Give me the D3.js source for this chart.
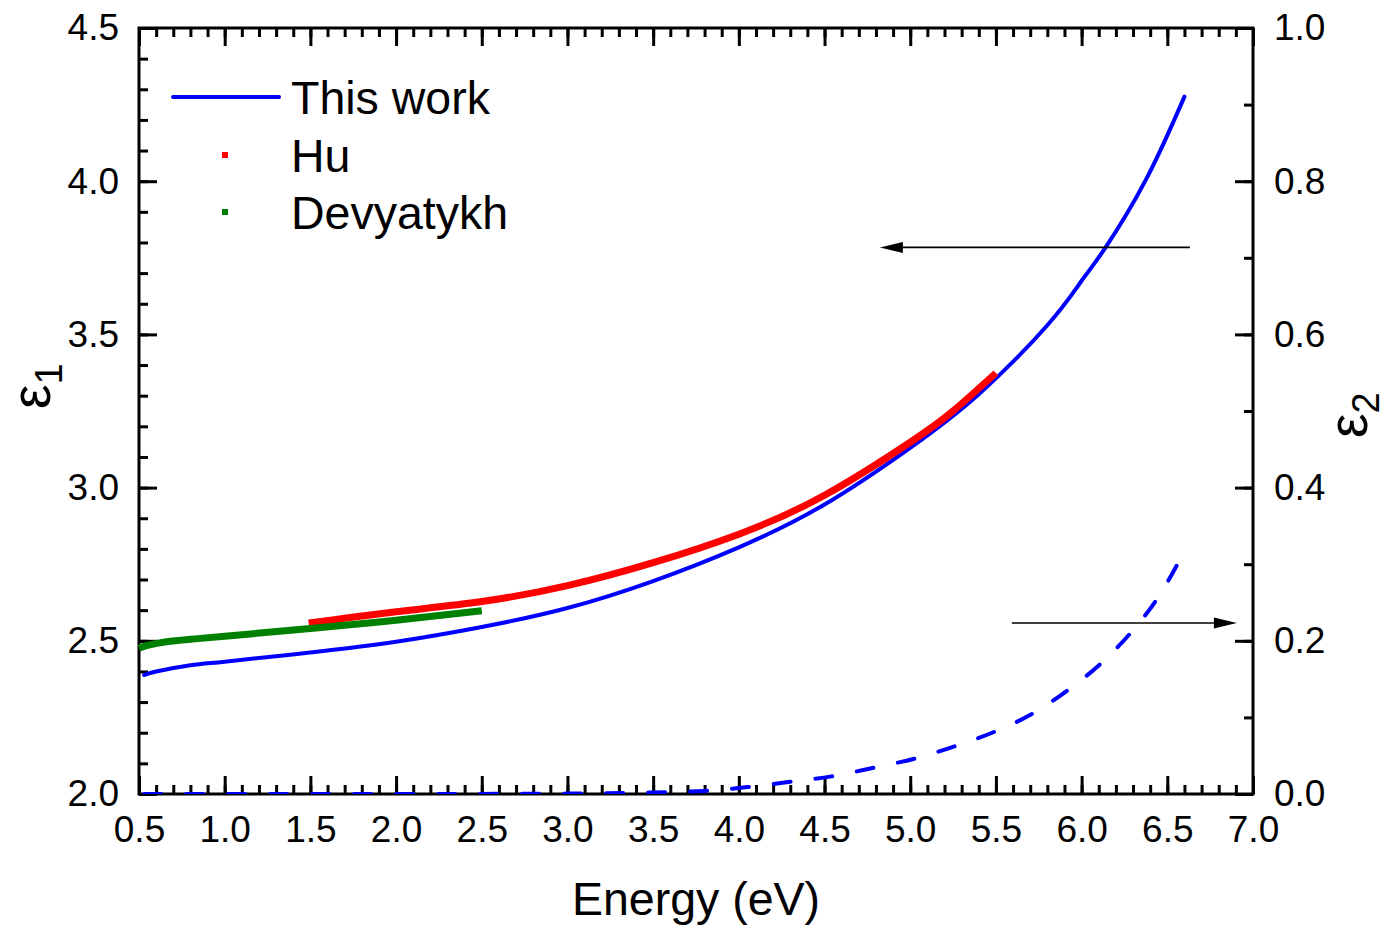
<!DOCTYPE html>
<html>
<head>
<meta charset="utf-8">
<script src="https://cdn.jsdelivr.net/npm/d3@7"></script>
<style>
  body { margin: 0; background: #fff; }
  text { font-family: "Liberation Sans", Arial, sans-serif; fill: #000; }
</style>
</head>
<body>
<div id="chart"></div>
<script>
// Daten
const energyThisWork = [0.53, 0.6, 0.8, 1.0, 1.5, 2.0, 2.5, 3.0, 3.5, 4.0, 4.5, 5.0, 5.4, 5.8, 6.0, 6.14, 6.38, 6.6];
const eps1ThisWork = [2.388, 2.400, 2.420, 2.432, 2.462, 2.497, 2.545, 2.607, 2.695, 2.805, 2.945, 3.13, 3.305, 3.53, 3.675, 3.784, 4.01, 4.276];

const energyEps2 = [0.53, 1.0, 2.0, 3.0, 3.5, 3.8, 4.05, 4.3, 4.54, 4.78, 5.04, 5.27, 5.5, 5.73, 5.94, 6.13, 6.3, 6.45, 6.6];
const eps2ThisWork = [0, 0, 0, 0.0005, 0.002, 0.004, 0.009, 0.016, 0.023, 0.034, 0.047, 0.063, 0.082, 0.107, 0.139, 0.174, 0.214, 0.258, 0.317];

const energyHu = [1.49, 2.0, 2.5, 3.0, 3.5, 4.0, 4.5, 5.0, 5.25, 5.5];
const eps1Hu = [2.558, 2.595, 2.628, 2.68, 2.755, 2.848, 2.975, 3.148, 3.25, 3.374];

const energyDev = [0.5, 0.55, 0.66, 0.8, 1.0, 1.5, 2.0, 2.5];
const eps1Dev = [2.476, 2.485, 2.497, 2.505, 2.515, 2.54, 2.567, 2.598];

const legendLabels = ["This work", "Hu", "Devyatykh"];

const xMajorTicks = d3.range(0.5, 7.01, 0.5);
const xMinorTicks = d3.range(0.5, 7.001, 0.1);
const y1MajorTicks = d3.range(2.0, 4.51, 0.5);
const y1MinorTicks = d3.range(2.0, 4.501, 0.1);
const y2MajorTicks = d3.range(0, 1.01, 0.2);
const y2MinorTicks = d3.range(0, 1.001, 0.1);

// Pfeile: [E von, E bis, Wert]
const arrowLeft = [6.632, 4.823, 3.784];
const arrowRight = [5.593, 6.906, 0.2232];

// Grundgerüst
const breite = 1396, hoehe = 925;
const m = { left: 139, right: 1253, top: 28, bottom: 794 };

const svg = d3.select("#chart").append("svg")
  .attr("width", breite)
  .attr("height", hoehe);

const x = d3.scaleLinear().domain([0.5, 7.0]).range([m.left, m.right]);
const y1 = d3.scaleLinear().domain([2.0, 4.5]).range([m.bottom, m.top]);
const y2 = d3.scaleLinear().domain([0, 1]).range([m.bottom, m.top]);

const fmt = d3.format(".1f");
const major = 18, minor = 9;

function styleAxis(g) {
  g.selectAll(".domain").remove();
  g.selectAll("line").attr("stroke", "#000").attr("stroke-width", 3);
  g.selectAll("text").style("font-size", "37px").attr("fill", "#000");
}

// Unten
svg.append("g").attr("transform", `translate(0,${m.bottom})`)
  .call(d3.axisBottom(x).tickValues(xMinorTicks).tickSize(-minor).tickFormat(""))
  .call(styleAxis);
svg.append("g").attr("transform", `translate(0,${m.bottom})`)
  .call(d3.axisBottom(x).tickValues(xMajorTicks).tickSize(-major).tickPadding(22).tickFormat(fmt))
  .call(styleAxis);
// Oben
svg.append("g").attr("transform", `translate(0,${m.top})`)
  .call(d3.axisTop(x).tickValues(xMinorTicks).tickSize(-minor).tickFormat(""))
  .call(styleAxis);
svg.append("g").attr("transform", `translate(0,${m.top})`)
  .call(d3.axisTop(x).tickValues(xMajorTicks).tickSize(-major).tickFormat(""))
  .call(styleAxis);
// Links
svg.append("g").attr("transform", `translate(${m.left},0)`)
  .call(d3.axisLeft(y1).tickValues(y1MinorTicks).tickSize(-minor).tickFormat(""))
  .call(styleAxis);
svg.append("g").attr("transform", `translate(${m.left},0)`)
  .call(d3.axisLeft(y1).tickValues(y1MajorTicks).tickSize(-major).tickPadding(20).tickFormat(fmt))
  .call(styleAxis);
// Rechts
svg.append("g").attr("transform", `translate(${m.right},0)`)
  .call(d3.axisRight(y2).tickValues(y2MinorTicks).tickSize(-minor).tickFormat(""))
  .call(styleAxis);
svg.append("g").attr("transform", `translate(${m.right},0)`)
  .call(d3.axisRight(y2).tickValues(y2MajorTicks).tickSize(-major).tickPadding(21).tickFormat(fmt))
  .call(styleAxis);

// Rahmen
svg.append("rect")
  .attr("x", m.left).attr("y", m.top)
  .attr("width", m.right - m.left).attr("height", m.bottom - m.top)
  .attr("fill", "none").attr("stroke", "#000").attr("stroke-width", 3);

// Kurven
svg.append("clipPath").attr("id", "plotclip")
  .append("rect").attr("x", m.left - 2).attr("y", m.top).attr("width", m.right - m.left + 2).attr("height", m.bottom - m.top);

const curves = svg.append("g").attr("clip-path", "url(#plotclip)");

const line1 = d3.line().x(d => x(d[0])).y(d => y1(d[1])).curve(d3.curveNatural);
const line2 = d3.line().x(d => x(d[0])).y(d => y2(d[1])).curve(d3.curveMonotoneX);

curves.append("path")
  .datum(d3.zip(energyEps2, eps2ThisWork))
  .attr("d", line2)
  .attr("fill", "none").attr("stroke", "#0000ff").attr("stroke-width", 4)
  .attr("stroke-linecap", "round").attr("stroke-dasharray", "17,25");

curves.append("path")
  .datum(d3.zip(energyThisWork, eps1ThisWork))
  .attr("d", line1)
  .attr("fill", "none").attr("stroke", "#0000ff").attr("stroke-width", 4)
  .attr("stroke-linecap", "round");

curves.append("path")
  .datum(d3.zip(energyHu, eps1Hu))
  .attr("d", line1)
  .attr("fill", "none").attr("stroke", "#ff0000").attr("stroke-width", 7);

curves.append("path")
  .datum(d3.zip(energyDev, eps1Dev))
  .attr("d", line1)
  .attr("fill", "none").attr("stroke", "#008000").attr("stroke-width", 7);

// Pfeile
function drawArrow(a, scaleY) {
  const x0 = x(a[0]), x1 = x(a[1]), yy = scaleY(a[2]);
  const dir = Math.sign(x1 - x0);
  const headLen = 23, headHalf = 5.5;
  svg.append("line")
    .attr("x1", x0).attr("x2", x1 - dir * headLen)
    .attr("y1", yy).attr("y2", yy)
    .attr("stroke", "#000").attr("stroke-width", 1.6);
  svg.append("path")
    .attr("d", `M${x1},${yy}L${x1 - dir * headLen},${yy - headHalf}L${x1 - dir * headLen},${yy + headHalf}Z`)
    .attr("fill", "#000");
}
drawArrow(arrowLeft, y1);
drawArrow(arrowRight, y2);

// Legende
const legend = svg.append("g");
legend.append("line")
  .attr("x1", 173).attr("x2", 279).attr("y1", 97).attr("y2", 97)
  .attr("stroke", "#0000ff").attr("stroke-width", 4).attr("stroke-linecap", "round");
legend.append("rect").attr("x", 222).attr("y", 152).attr("width", 6).attr("height", 6).attr("fill", "#ff0000");
legend.append("rect").attr("x", 222).attr("y", 209).attr("width", 6).attr("height", 6).attr("fill", "#008000");

legendLabels.forEach((t, i) => {
  legend.append("text")
    .attr("x", 291).attr("y", 114 + i * 57.5)
    .style("font-size", "46.5px")
    .text(t);
});

// Achsentitel
svg.append("text")
  .attr("x", (m.left + m.right) / 2).attr("y", 915)
  .attr("text-anchor", "middle")
  .style("font-size", "46.5px")
  .text("Energy (eV)");

const eps1Label = svg.append("text")
  .attr("transform", "translate(50,409) rotate(-90)")
  .style("font-size", "55px");
eps1Label.append("tspan").text("ε");
eps1Label.append("tspan").attr("dy", 12).style("font-size", "38px").text("1");

const eps2Label = svg.append("text")
  .attr("transform", "translate(1367,438) rotate(-90)")
  .style("font-size", "55px");
eps2Label.append("tspan").text("ε");
eps2Label.append("tspan").attr("dy", 12).style("font-size", "38px").text("2");
</script>
</body>
</html>
